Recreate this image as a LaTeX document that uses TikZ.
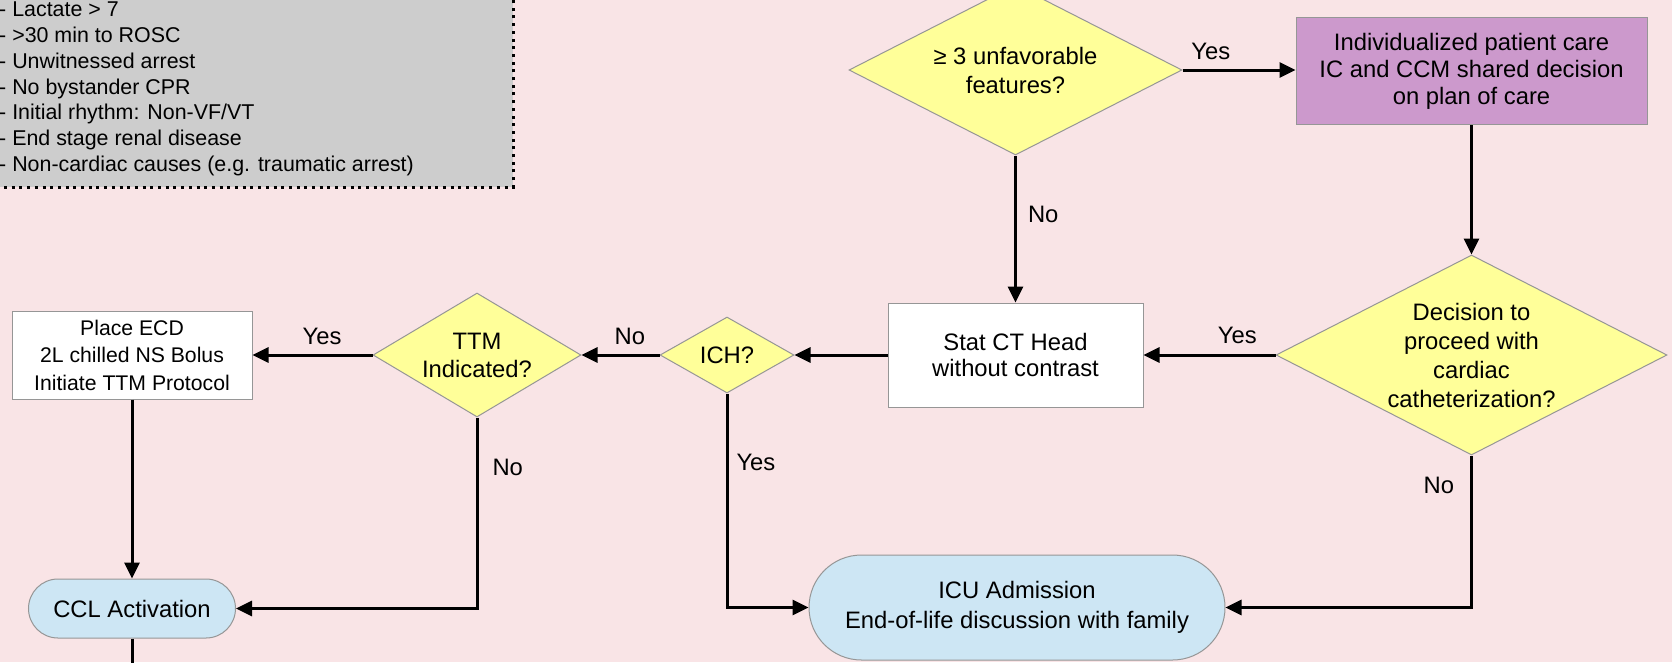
\documentclass[tikz,border=0pt]{standalone}
\usepackage{fontspec}
\setmainfont{Liberation Sans}
\usetikzlibrary{shapes.geometric,shapes.misc,arrows.meta}

\definecolor{bgpink}{RGB}{249,228,230}
\definecolor{featgray}{RGB}{205,205,205}
\definecolor{qyellow}{RGB}{255,255,153}
\definecolor{carepurple}{RGB}{204,153,204}
\definecolor{endblue}{RGB}{205,230,244}
\definecolor{edgegray}{RGB}{150,150,150}

\begin{document}
\begin{tikzpicture}[x=1pt,y=-1pt,
    every node/.style={font=\fontsize{23.8}{29}\selectfont, inner sep=0pt},
    decision/.style={diamond, aspect=1.9, draw=edgegray, line width=1pt, fill=qyellow, align=center},
    process/.style={rectangle, draw=edgegray, line width=1pt, fill=white, align=center},
    terminal/.style={rounded rectangle, draw=edgegray, line width=1pt, fill=endblue, align=center},
    featbox/.style={fill=featgray, draw=black, line width=3pt, dash pattern=on 3pt off 4.7pt},
    featlist/.style={align=left, font=\fontsize{21.4}{25.75}\selectfont},
    arrowline/.style={line width=3pt, -{Triangle[length=16pt,width=15pt]}},
    plainline/.style={line width=3pt}
  ]
  \fill[bgpink] (0,0) rectangle (1672,662);
  \useasboundingbox (0,0) rectangle (1672,662);

  % unfavorable features
  \draw[featbox] (-20,-20) rectangle (513,187);
  \node[featlist, anchor=west] (feat) at (-1,89) {- Lactate > 7\\- >30 min to ROSC\\- Unwitnessed arrest\\- No bystander CPR\\- Initial rhythm: Non-VF/VT\\- End stage renal disease\\- Non-cardiac causes (e.g. traumatic arrest)};

  \node[decision, minimum width=333pt, minimum height=170pt] (q3) at (1015.5,70) {≥ 3 unfavorable\\features?};
  \node[process, fill=carepurple, minimum width=351pt, minimum height=107pt, font=\fontsize{23.8}{27}\selectfont] (indiv) at (1471.5,71) {Individualized patient care\\IC and CCM shared decision\\on plan of care};
  \node[decision, minimum width=391pt, minimum height=200pt] (dec) at (1471.5,355) {Decision to\\proceed with\\cardiac\\catheterization?};
  \node[process, minimum width=255pt, minimum height=104pt, font=\fontsize{23.8}{26}\selectfont] (ct) at (1015.5,355) {Stat CT Head\\without contrast};
  \node[decision, minimum width=134pt, minimum height=76pt] (ich) at (727,355) {ICH?};
  \node[decision, minimum width=208pt, minimum height=124pt, font=\fontsize{23.8}{28}\selectfont] (ttm) at (477,355) {TTM\\Indicated?};
  \node[process, minimum width=240pt, minimum height=88pt, font=\fontsize{21.2}{27.5}\selectfont] (place) at (132,355) {Place ECD\\2L chilled NS Bolus\\Initiate TTM Protocol};
  \node[terminal, minimum width=207pt, minimum height=59pt] (ccl) at (132,608.5) {CCL Activation};
  \node[terminal, minimum width=416pt, minimum height=105pt, font=\fontsize{23.8}{30}\selectfont] (icu) at (1017,607.5) {ICU Admission\\End-of-life discussion with family};
  \coordinate (cclout) at (132,690);

  \draw[arrowline] (q3.east) -- (indiv.west |- q3.east) node[pos=0.25, above=9pt] {Yes};
  \draw[arrowline] (q3.south) -- (ct.north) node[pos=0.4, right=11pt] {No};
  \draw[arrowline] (indiv.south) -- (dec.north);
  \draw[arrowline] (dec.west) -- (ct.east) node[pos=0.29, above=10pt] {Yes};
  \draw[arrowline] (dec.south) |- (icu.east) node[pos=0.1, left=16pt] {No};
  \draw[arrowline] (ct.west) -- (ich.east);
  \draw[arrowline] (ich.west) -- (ttm.east) node[pos=0.38, above=9pt] {No};
  \draw[arrowline] (ich.south) |- (icu.west) node[pos=0.16, right=8pt] {Yes};
  \draw[arrowline] (ttm.west) -- (place.east) node[pos=0.42, above=9pt] {Yes};
  \draw[arrowline] (ttm.south) |- (ccl.east) node[pos=0.13, right=14pt] {No};
  \draw[arrowline] (place.south) -- (ccl.north);
  \draw[plainline] (ccl.south) -- (cclout);
\end{tikzpicture}
\end{document}
